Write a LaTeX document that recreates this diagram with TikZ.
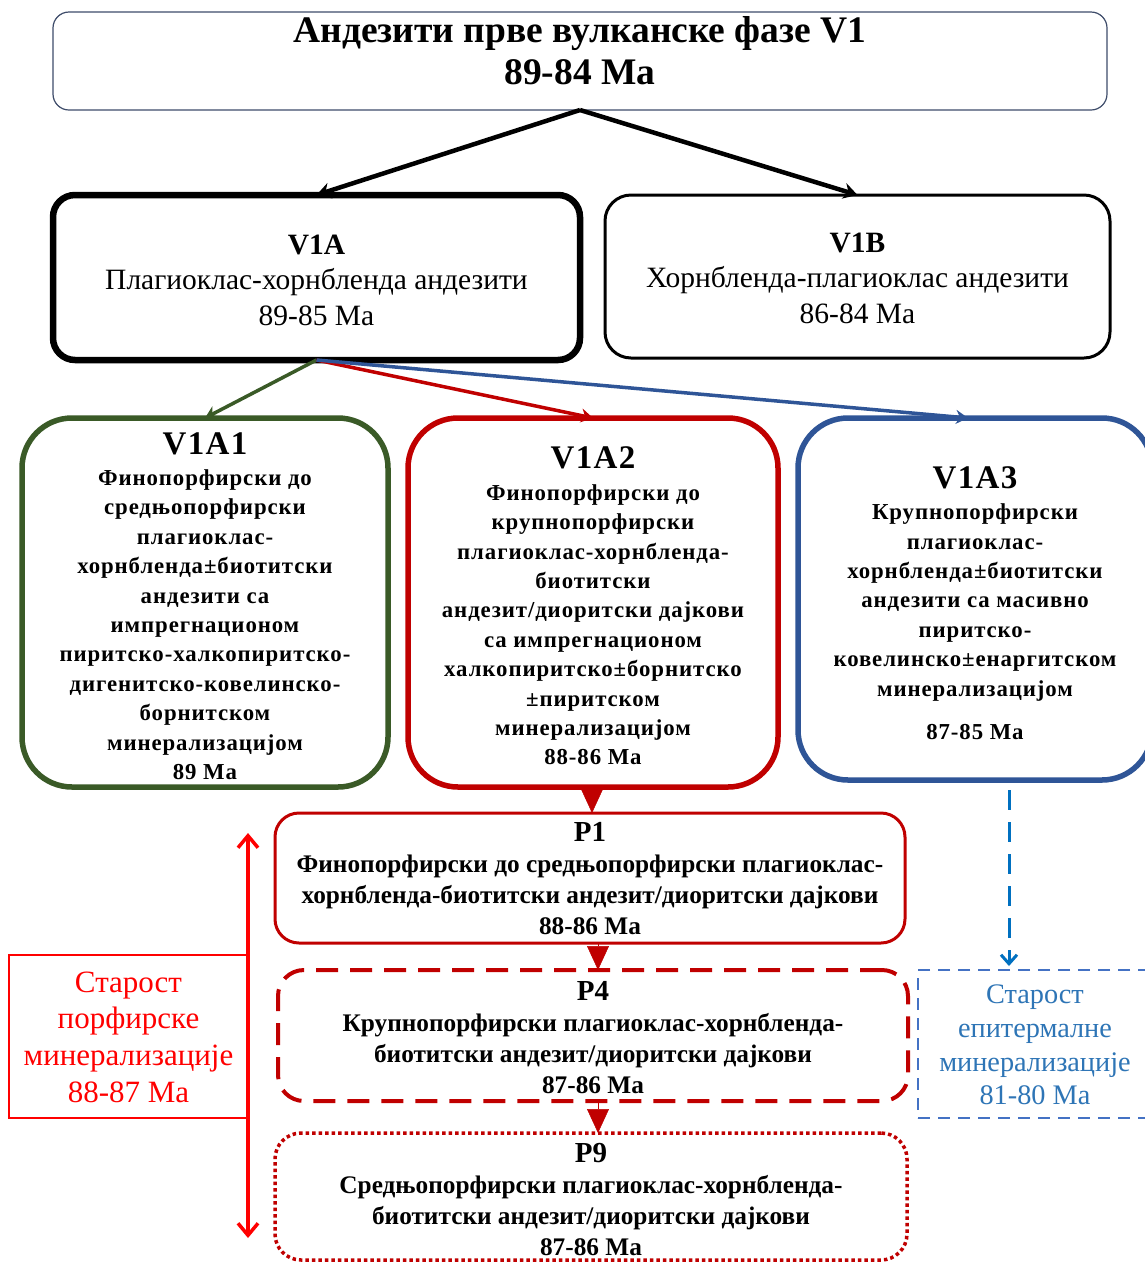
\documentclass[tikz,border=0pt]{standalone}
\usepackage{fontspec}
\setmainfont{Liberation Serif}
\newfontfamily\spacedf[LetterSpace=4]{Liberation Serif}
\usetikzlibrary{arrows.meta,calc}
\definecolor{cgreen}{HTML}{3A5A27}
\definecolor{cred}{HTML}{C00000}
\definecolor{cblue}{HTML}{2F5597}
\definecolor{ctop}{HTML}{3E4C6A}
\definecolor{pure}{HTML}{FF0000}
\definecolor{epiarrow}{HTML}{0070C0}
\definecolor{epibox}{HTML}{4472C4}
\definecolor{epitext}{HTML}{2E75B6}
\tikzset{
  box/.style={rectangle,inner sep=0pt,outer sep=0pt},
  txt/.style={inner sep=0pt,align=center},
  blk/.style={line width=4.5pt,-{Stealth[length=14pt,width=16pt]}},
  col/.style={line width=3.5pt,-{Stealth[length=12pt,width=14pt]}},
  tri/.style={line width=0.5pt,cred,-{Triangle[length=24pt,width=22pt]}},
  colbody/.style={txt,font=\spacedf\bfseries\fontsize{22.8}{29.4}\selectfont},
  pbody/.style={txt,font=\bfseries\fontsize{25.3}{31}\selectfont},
}
\newcommand{\lbl}[1]{{\fontsize{33}{36}\selectfont #1}}
\newcommand{\plbl}[1]{{\fontsize{29}{31}\selectfont #1}}
\begin{document}
\begin{tikzpicture}[x=1pt,y=-1pt]
\clip (0,0) rectangle (1145,1262);
\fill[white] (0,0) rectangle (1145,1262);
% boxes
\node[box,draw=ctop,line width=1.2pt,rounded corners=16pt,minimum width=1054pt,minimum height=98pt] (title) at (580,61) {};
\node[box,draw=black,line width=6.5pt,rounded corners=22pt,minimum width=527pt,minimum height=165pt] (v1a) at (316.5,277.5) {};
\node[box,draw=black,line width=3pt,rounded corners=26pt,minimum width=505pt,minimum height=163pt] (v1b) at (857.5,276.5) {};
\node[box,draw=cgreen,line width=5.5pt,rounded corners=50pt,minimum width=366pt,minimum height=369pt] (v1a1) at (205,602.5) {};
\node[box,draw=cred,line width=5.5pt,rounded corners=50pt,minimum width=370pt,minimum height=369pt] (v1a2) at (593,602.5) {};
\node[box,draw=cblue,line width=5.5pt,rounded corners=50pt,minimum width=354pt,minimum height=362pt] (v1a3) at (975,599) {};
\node[box,draw=cred,line width=3pt,rounded corners=24pt,minimum width=630pt,minimum height=130pt] (p1) at (590,878) {};
\node[box,draw=cred,line width=4pt,dash pattern=on 22pt off 12pt,rounded corners=26pt,minimum width=630pt,minimum height=131pt] (p4) at (593,1035.5) {};
\node[box,draw=cred,line width=3.5pt,dash pattern=on 3.5pt off 3pt,rounded corners=26pt,minimum width=632pt,minimum height=127pt] (p9) at (591,1196.5) {};
\node[box,draw=pure,line width=1.2pt,minimum width=239pt,minimum height=163pt] (lbox) at (128.5,1036.5) {};
\node[box,draw=epibox,line width=2.5pt,dash pattern=on 12pt off 8pt,minimum width=242pt,minimum height=148pt] (rbox) at (1039,1044) {};
% texts
\node[txt,font=\bfseries\fontsize{37.5}{42}\selectfont] (titleT) at (580,51) {Андезити прве вулканске фазе V1\\89-84 Ma};
\node[txt,font=\fontsize{29.5}{35.5}\selectfont] (v1aT) at (316.5,280) {\textbf{V1A}\\Плагиоклас-хорнбленда андезити\\89-85 Ma};
\node[txt,font=\fontsize{29.5}{35.5}\selectfont] (v1bT) at (857.5,278) {\textbf{V1B}\\Хорнбленда-плагиоклас андезити\\86-84 Ma};
\node[colbody] (v1a1T) at (205,606) {\lbl{V1A1}\\[2pt]Финопорфирски до\\средњопорфирски\\плагиоклас-\\хорнбленда±биотитски\\андезити са\\импрегнационом\\пиритско-халкопиритско-\\дигенитско-ковелинско-\\борнитском\\минерализацијом\\89 Ma};
\node[colbody] (v1a2T) at (593,606) {\lbl{V1A2}\\[2pt]Финопорфирски до\\крупнопорфирски\\плагиоклас-хорнбленда-\\биотитски\\андезит/диоритски дајкови\\са импрегнационом\\халкопиритско±борнитско\\±пиритском\\минерализацијом\\88-86 Ma};
\node[colbody] (v1a3T) at (975,603) {\lbl{V1A3}\\[2pt]Крупнопорфирски\\плагиоклас-\\хорнбленда±биотитски\\андезити са масивно\\пиритско-\\ковелинско±енаргитском\\минерализацијом\\[14pt]87-85 Ma};
\node[pbody] (p1T) at (590,879) {\plbl{P1}\\Финопорфирски до средњопорфирски плагиоклас-\\хорнбленда-биотитски андезит/диоритски дајкови\\88-86 Ma};
\node[pbody] (p4T) at (593,1038) {\plbl{P4}\\Крупнопорфирски плагиоклас-хорнбленда-\\биотитски андезит/диоритски дајкови\\87-86 Ma};
\node[pbody] (p9T) at (591,1200) {\plbl{P9}\\Средњопорфирски плагиоклас-хорнбленда-\\биотитски андезит/диоритски дајкови\\87-86 Ma};
\node[txt,text=pure,font=\fontsize{31}{36.7}\selectfont] (lT) at (128.5,1037) {Старост\\порфирске\\минерализације\\88-87 Ma};
\node[txt,text=epitext,font=\fontsize{28.3}{33.7}\selectfont] (rT) at (1035,1045) {Старост\\епитермалне\\минерализације\\81-80 Ma};
% connectors
\draw[blk] (title.south) -- (v1a.north);
\draw[blk] (title.south) -- (v1b.north);
\draw[col,cgreen] (v1a.south) -- (v1a1.north);
\draw[col,cred] (v1a.south) -- (v1a2.north);
\draw[col,cblue] (v1a.south) -- ($(v1a3.north)+(-7,0)$);
\coordinate (tx1) at (592,0);
\coordinate (tx2) at (598,0);
\draw[tri] (v1a2.south -| tx1) -- (p1.north -| tx1);
\draw[tri] (p1.south -| tx2) -- (p4.north -| tx2);
\draw[tri] (p4.south -| tx2) -- (p9.north -| tx2);
\coordinate (epx) at (1009,0);
\draw[epiarrow,line width=3pt,dash pattern=on 20pt off 12pt,-{Straight Barb[length=9pt,width=16pt]}] ($(v1a3.south -| epx)+(0,10)$) -- ($(rbox.north -| epx)+(0,-4)$);
\coordinate (dtop) at (248,833);
\coordinate (dbot) at (248,1238);
\draw[pure,line width=3.5pt,{Straight Barb[length=12pt,width=20pt]}-{Straight Barb[length=12pt,width=20pt]}] (dtop) -- (dbot);
\end{tikzpicture}
\end{document}
